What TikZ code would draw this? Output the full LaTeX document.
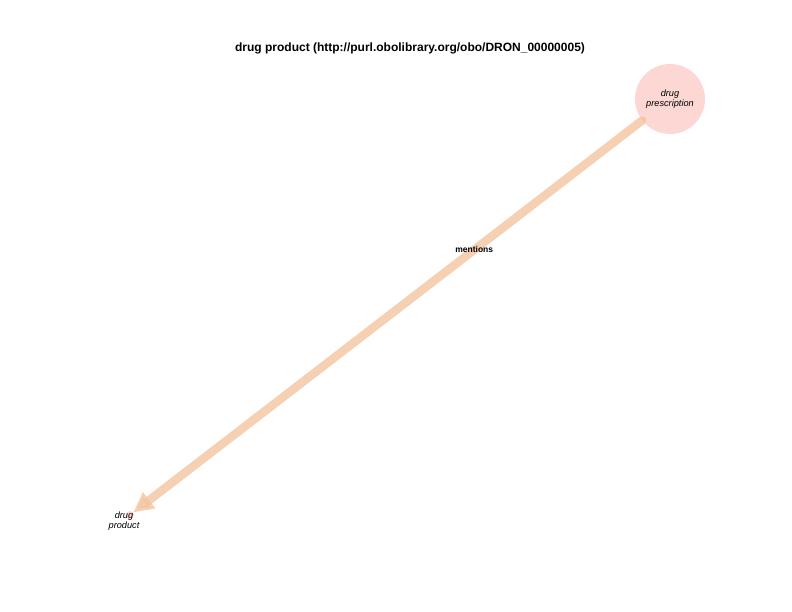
\documentclass[tikz,border=0pt]{standalone}
\usepackage{fontspec}
\setmainfont{Liberation Sans}
\usetikzlibrary{arrows.meta}
\definecolor{edgepeach}{RGB}{243,196,160}
\definecolor{nodepink}{RGB}{252,215,212}

\begin{document}
\begin{tikzpicture}[x=1pt, y=-1pt,
  concept/.style={circle, fill=nodepink, inner sep=0pt,
                  font=\fontsize{9.2}{10}\selectfont\itshape, align=center},
  rel/.style={draw=edgepeach, line width=8.5pt, opacity=0.8, line cap=round,
              -{Triangle[length=20pt, width=19pt]}},
  lbl/.style={font=\fontsize{8.5}{9}\selectfont\bfseries}]
 \useasboundingbox (0,0) rectangle (792,612);
 \draw (410, 48) node[font=\fontsize{12}{14}\selectfont\bfseries] (title) {drug product (http://purl.obolibrary.org/obo/DRON\_00000005)};
 \draw (670, 99) node[concept, minimum size=70pt] (prescription) {drug\\prescription};
 \draw (130, 515) node[concept, minimum size=8pt] (product) {};
 \draw (124, 521) node[font=\fontsize{9.2}{10}\selectfont\itshape, align=center] (productlabel) {drug\\product};

 \draw[rel] (prescription) -- (product) node[pos=0.33, lbl, opacity=1, text=black] (mentions) {mentions};
\end{tikzpicture}
\end{document}
